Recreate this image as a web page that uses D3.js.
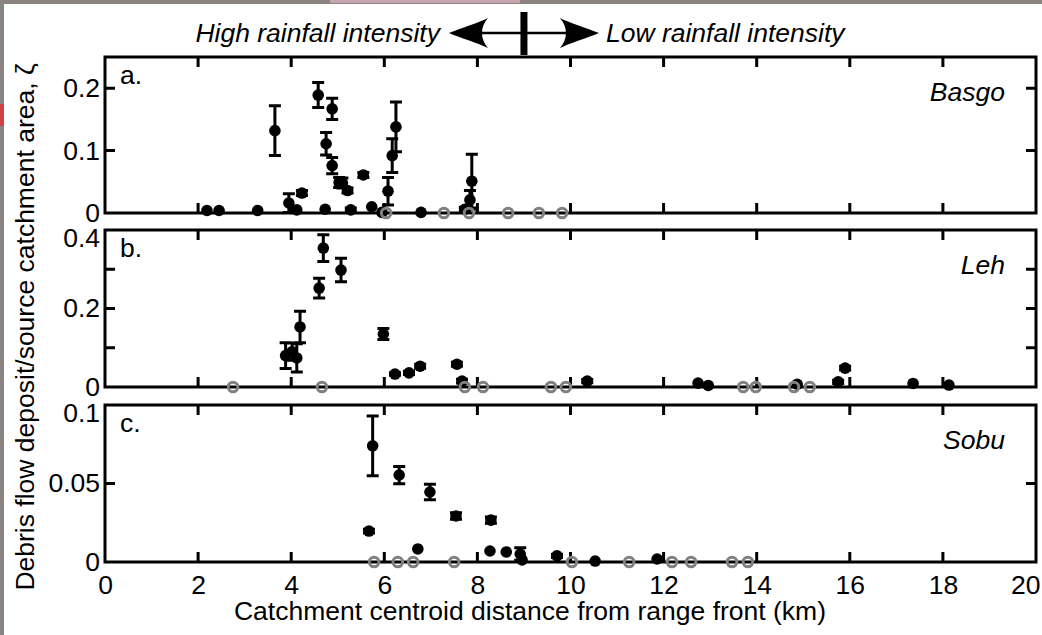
<!DOCTYPE html>
<html>
<head>
<meta charset="utf-8">
<script src="https://cdn.jsdelivr.net/npm/d3@7"></script>
<style>
  html, body { margin: 0; padding: 0; background: #fff; }
  svg { display: block; }
  text { font-family: "Liberation Sans", Arial, sans-serif; fill: #000; }
</style>
</head>
<body>
<svg id="chart" width="1042" height="635"></svg>
<script>
// ---- data ------------------------------------------------------------
const distanceTicks = [0, 2, 4, 6, 8, 10, 12, 14, 16, 18, 20];

// Basgo: catchments with debris-flow deposits (value ± error)
const basgoX   = [2.19, 2.45, 3.28, 3.65, 3.95, 4.12, 4.23, 4.58, 4.73, 4.75, 4.88, 4.88, 5.03, 5.10, 5.21, 5.28, 5.55, 5.73, 5.95, 6.08, 6.17, 6.25, 6.79, 7.73, 7.84, 7.88];
const basgoY   = [0.004, 0.004, 0.004, 0.132, 0.016, 0.005, 0.032, 0.189, 0.006, 0.111, 0.167, 0.076, 0.049, 0.048, 0.036, 0.005, 0.061, 0.010, 0.001, 0.035, 0.092, 0.138, 0.001, 0.006, 0.021, 0.051];
const basgoErr = [0, 0, 0, 0.040, 0.015, 0, 0.004, 0.020, 0, 0.018, 0.017, 0.013, 0.008, 0.008, 0.004, 0.003, 0.004, 0, 0, 0.022, 0.027, 0.040, 0, 0.003, 0.015, 0.043];
// Basgo: catchments without deposits
const basgoZeroX = [6.04, 7.28, 7.82, 8.66, 9.32, 9.82];

// Leh
const lehX   = [3.88, 4.02, 4.12, 4.19, 4.60, 4.69, 5.07, 5.98, 6.23, 6.53, 6.77, 7.56, 7.67, 10.36, 12.74, 12.96, 14.87, 15.75, 15.90, 17.36, 18.13];
const lehY   = [0.080, 0.090, 0.074, 0.153, 0.252, 0.354, 0.298, 0.135, 0.033, 0.036, 0.053, 0.058, 0.015, 0.015, 0.010, 0.004, 0.007, 0.013, 0.048, 0.009, 0.005];
const lehErr = [0.033, 0.022, 0.036, 0.040, 0.025, 0.034, 0.030, 0.014, 0.003, 0.004, 0.005, 0.005, 0.005, 0.004, 0, 0, 0, 0.004, 0.005, 0, 0];
const lehZeroX = [2.75, 4.66, 7.73, 8.12, 9.58, 9.90, 13.71, 13.98, 14.80, 15.14];

// Sobu
const sobuX   = [5.67, 5.75, 6.32, 6.72, 6.98, 7.54, 8.27, 8.29, 8.62, 8.92, 8.96, 9.71, 10.53, 11.86];
const sobuY   = [0.0197, 0.074, 0.0554, 0.0083, 0.0446, 0.0293, 0.0070, 0.0267, 0.0064, 0.0051, 0.0013, 0.0039, 0.0006, 0.0019];
const sobuErr = [0.0012, 0.019, 0.0055, 0, 0.0050, 0.0020, 0, 0.0020, 0, 0.0040, 0, 0.0010, 0, 0];
const sobuZeroX = [5.78, 6.29, 6.62, 7.50, 10.03, 11.26, 12.18, 12.59, 13.47, 13.81];

const panelNames   = ["Basgo", "Leh", "Sobu"];
const panelLetters = ["a.", "b.", "c."];
const panelMax     = [0.25, 0.4, 0.1];
const panelTicks   = [[0, 0.1, 0.2], [0, 0.1, 0.2, 0.3, 0.4], [0, 0.05, 0.1]];
const panelTickLabels = [["0", "0.1", "0.2"], ["0", "", "0.2", "", "0.4"], ["0", "0.05", "0.1"]];

const rainfallSplitKm = 9;
const leftLabel  = "High rainfall intensity";
const rightLabel = "Low rainfall intensity";
const xTitle = "Catchment centroid distance from range front (km)";
const yTitle = "Debris flow deposit/source catchment area, \u03B6";

// ---- layout ------------------------------------------------------------
const svg = d3.select("#chart");
const FONT = 26.5;
const plotLeft = 105, plotRight = 1036;
const panelTop    = [57, 230, 405];
const panelBottom = [213, 387, 562];
const TICK = 10;

const x = d3.scaleLinear().domain([0, 20]).range([plotLeft, plotRight]);

// grainy border along the top and left edges
svg.append("rect").attr("x", 0).attr("y", 0).attr("width", 1042).attr("height", 4).attr("fill", "#8a8483");
svg.append("rect").attr("x", 0).attr("y", 0).attr("width", 4).attr("height", 635).attr("fill", "#8a8483");
svg.append("rect").attr("x", 0).attr("y", 104).attr("width", 4).attr("height", 22).attr("fill", "#d2404a");
svg.append("rect").attr("x", 330).attr("y", 0).attr("width", 190).attr("height", 3).attr("fill", "#c9a3ad");

// ---- panels -----------------------------------------------------------------
const series = [
  { xs: basgoX, ys: basgoY, es: basgoErr, zeros: basgoZeroX },
  { xs: lehX,   ys: lehY,   es: lehErr,   zeros: lehZeroX },
  { xs: sobuX,  ys: sobuY,  es: sobuErr,  zeros: sobuZeroX }
];

series.forEach((s, i) => {
  const y = d3.scaleLinear().domain([0, panelMax[i]]).range([panelBottom[i], panelTop[i]]);
  const g = svg.append("g");
  const y0px = panelBottom[i], y1px = panelTop[i];

  const innerX = distanceTicks.filter(d => d > 0 && d < 20);
  const innerY = panelTicks[i].filter(d => d > 0 && d < panelMax[i] - 1e-9);

  // frame
  g.append("rect")
    .attr("x", plotLeft).attr("y", y1px)
    .attr("width", plotRight - plotLeft).attr("height", y0px - y1px)
    .attr("fill", "none").attr("stroke", "#000").attr("stroke-width", 3);

  // inward tick marks on all four sides
  const tickSegs = [];
  innerX.forEach(d => {
    tickSegs.push([x(d), y1px, x(d), y1px + TICK]);
    tickSegs.push([x(d), y0px, x(d), y0px - TICK]);
  });
  innerY.forEach(d => {
    tickSegs.push([plotLeft, y(d), plotLeft + TICK, y(d)]);
    tickSegs.push([plotRight, y(d), plotRight - TICK, y(d)]);
  });
  g.append("path")
    .attr("d", tickSegs.map(t => `M${t[0]},${t[1]}L${t[2]},${t[3]}`).join(""))
    .attr("fill", "none").attr("stroke", "#000").attr("stroke-width", 3);

  // y tick labels
  const labelOf = d => panelTickLabels[i][panelTicks[i].indexOf(d)];
  const lAx = g.append("g").attr("transform", `translate(${plotLeft},0)`)
    .call(d3.axisLeft(y).tickValues(panelTicks[i]).tickSize(0).tickPadding(5).tickFormat(labelOf));
  lAx.select(".domain").remove();
  lAx.selectAll(".tick text").style("font-size", FONT + "px").attr("fill", "#000");
  // the topmost label sits just inside the frame
  lAx.selectAll(".tick").filter(d => Math.abs(d - panelMax[i]) < 1e-9).select("text").attr("dy", "0.62em");

  // x tick labels on the bottom panel
  if (i === 2) {
    const bAx = g.append("g").attr("transform", `translate(0,${y0px})`)
      .call(d3.axisBottom(x).tickValues(distanceTicks).tickSize(0).tickPadding(13).tickFormat(d3.format("d")));
    bAx.select(".domain").remove();
    bAx.selectAll(".tick text").style("font-size", FONT + "px").attr("fill", "#000");
    bAx.selectAll(".tick").filter(d => d === 20).select("text").attr("text-anchor", "end").attr("x", 4);
  }

  // panel letter and catchment name
  g.append("text").attr("x", plotLeft + 15).attr("y", y1px + 27)
    .style("font-size", FONT + "px").text(panelLetters[i]);
  g.append("text").attr("x", plotRight - 31).attr("y", y1px + 44)
    .attr("text-anchor", "end").style("font-size", FONT + "px").style("font-style", "italic")
    .text(panelNames[i]);

  // error bars
  const pts = s.xs.map((d, k) => ({ x: d, y: s.ys[k], e: s.es[k] }));
  const barSegs = [];
  pts.filter(p => p.e > 0).forEach(p => {
    const cx = x(p.x), lo = y(Math.max(0, p.y - p.e)), hi = y(p.y + p.e);
    barSegs.push([cx, lo, cx, hi], [cx - 6, lo, cx + 6, lo], [cx - 6, hi, cx + 6, hi]);
  });
  g.append("path")
    .attr("d", barSegs.map(t => `M${t[0]},${t[1]}L${t[2]},${t[3]}`).join(""))
    .attr("fill", "none").attr("stroke", "#000").attr("stroke-width", 3);

  // catchments with deposits
  g.append("g").selectAll("circle").data(pts).join("circle")
    .attr("cx", d => x(d.x)).attr("cy", d => y(d.y)).attr("r", 5.8).attr("fill", "#000");

  // catchments without deposits
  g.append("g").selectAll("circle").data(s.zeros).join("circle")
    .attr("cx", d => x(d)).attr("cy", y(0)).attr("r", 4.8)
    .attr("fill", "none").attr("stroke", "#808080").attr("stroke-width", 3);
});

// ---- axis titles -------------------------------------------------------------
svg.append("text").attr("x", 530).attr("y", 620).attr("text-anchor", "middle")
  .style("font-size", FONT + "px").text(xTitle);
svg.append("text").attr("transform", "translate(34,327) rotate(-90)")
  .attr("text-anchor", "middle").style("font-size", FONT + "px").text(yTitle);

// ---- rainfall-intensity annotation --------------------------------------------------
const splitX = x(rainfallSplitKm);
const ay = 33;
const ann = svg.append("g");
ann.append("line").attr("x1", splitX - 44).attr("x2", splitX + 44).attr("y1", ay).attr("y2", ay)
  .attr("stroke", "#000").attr("stroke-width", 2.5);
ann.append("rect").attr("x", splitX - 3.5).attr("y", 12).attr("width", 7).attr("height", 43).attr("fill", "#000");
const arrowHead = dir => {
  const tip = splitX + dir * 75, back = splitX + dir * 36, notch = splitX + dir * 44;
  return `M${tip},${ay} C${tip - dir * 12},${ay - 5} ${back + dir * 10},${ay - 10} ${back},${ay - 15} ` +
         `C${notch},${ay - 6} ${notch},${ay + 6} ${back},${ay + 15} ` +
         `C${back + dir * 10},${ay + 10} ${tip - dir * 12},${ay + 5} ${tip},${ay} Z`;
};
ann.append("path").attr("d", arrowHead(-1)).attr("fill", "#000");
ann.append("path").attr("d", arrowHead(1)).attr("fill", "#000");
ann.append("text").attr("x", splitX - 84).attr("y", 42).attr("text-anchor", "end")
  .style("font-size", FONT + "px").style("font-style", "italic").text(leftLabel);
ann.append("text").attr("x", splitX + 82).attr("y", 42)
  .style("font-size", FONT + "px").style("font-style", "italic").text(rightLabel);
</script>
</body>
</html>
